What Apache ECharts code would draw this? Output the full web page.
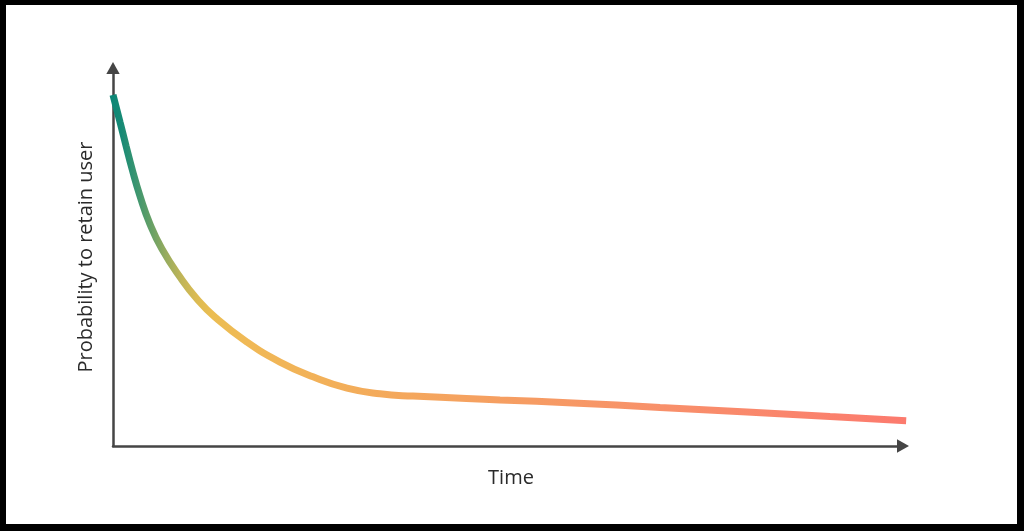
<!DOCTYPE html>
<html>
<head>
<meta charset="utf-8">
<script src="https://cdn.jsdelivr.net/npm/echarts@6/dist/echarts.min.js"></script>
<style>
html,body{margin:0;padding:0;background:#fff;}
#chart{width:1024px;height:531px;}
</style>
</head>
<body>
<div id="chart"></div>
<script>
// Time (0-100) and retention probability (0-100)
const timeValues = [0, 0.89, 1.65, 2.41, 3.42, 4.68, 6.2, 8.48, 10.63, 12.91, 16.96, 21.14, 25.32, 29.62, 33.8, 37.97, 48.99, 58.23, 69.24, 80.25, 90.76, 100.4];
const retainValues = [92.9, 85.7, 79.4, 73.3, 66.1, 58.7, 52.1, 44.7, 38.9, 34.1, 27.5, 22.2, 18.3, 15.3, 13.8, 13.2, 12.2, 11.4, 10.2, 9.0, 7.8, 6.7];
const xAxisName = 'Time';
const yAxisName = 'Probability to retain user';

const seriesData = timeValues.map((t, i) => [t, retainValues[i]]);

const chart = echarts.init(document.getElementById('chart'), null, {renderer: 'canvas'});
const axisCommon = {
  axisTick: {show: false},
  axisLabel: {show: false},
  splitLine: {show: false},
  axisLine: {
    show: true,
    symbol: ['none', 'path://M5,0 L10,9 L0,9 Z'],
    symbolSize: [14, 12],
    lineStyle: {color: '#454545', width: 2.5}
  },
  nameLocation: 'middle',
  nameTextStyle: {fontFamily: 'Open Sans', fontSize: 20, color: '#2a2a2a'}
};
chart.setOption({
  animation: false,
  backgroundColor: '#fff',
  grid: {left: 113, right: 1024 - 903, top: 68, bottom: 531 - 446},
  xAxis: Object.assign({}, axisCommon, {type: 'value', min: 0, max: 100, name: xAxisName, nameGap: 22,
    nameTextStyle: {fontFamily: 'Open Sans', fontSize: 20, color: '#2a2a2a', padding: [0, 0, 0, 6]}}),
  yAxis: Object.assign({}, axisCommon, {type: 'value', min: 0, max: 100, name: yAxisName, nameGap: 17}),
  graphic: [{
    type: 'rect', z: 100,
    shape: {x: 0, y: -1, width: 1023, height: 531},
    style: {fill: 'none', stroke: '#000', lineWidth: 12}
  }],
  series: [{
    type: 'line',
    data: seriesData,
    smooth: 0.5,
    showSymbol: false,
    clip: false,
    lineStyle: {
      width: 7,
      cap: 'butt',
      color: new echarts.graphic.LinearGradient(0, 0, 1, 0, [
        {offset: 0, color: '#0b8677'},
        {offset: 0.015, color: '#168a75'},
        {offset: 0.033, color: '#3a9570'},
        {offset: 0.052, color: '#66a066'},
        {offset: 0.071, color: '#98ac5e'},
        {offset: 0.09, color: '#c0b558'},
        {offset: 0.109, color: '#dcbb52'},
        {offset: 0.128, color: '#ebbd52'},
        {offset: 0.172, color: '#f0b956'},
        {offset: 0.36, color: '#f4a85c'},
        {offset: 0.69, color: '#f8906a'},
        {offset: 1, color: '#fc7a6e'}
      ])
    }
  }]
});
</script>
</body>
</html>
